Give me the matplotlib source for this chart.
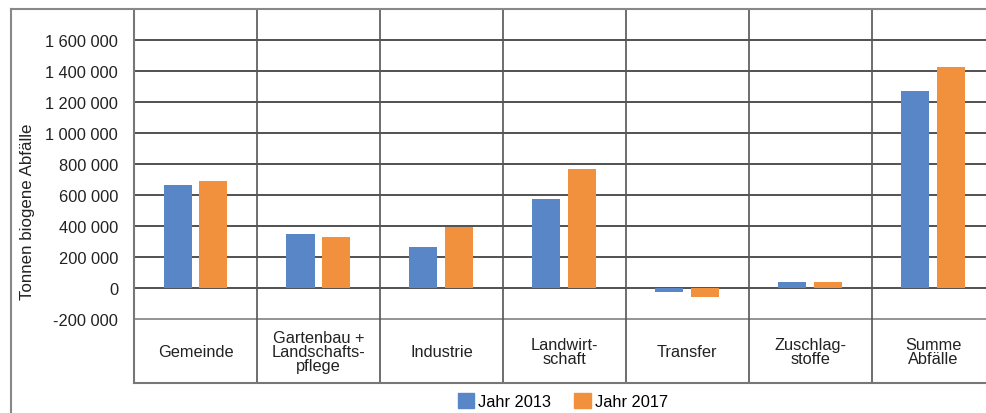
import numpy as np
import matplotlib
matplotlib.use("Agg")
import matplotlib.pyplot as plt
from matplotlib.lines import Line2D
from matplotlib.patches import Patch
from matplotlib.ticker import FuncFormatter

plt.rcParams['font.family'] = ['Liberation Sans', 'DejaVu Sans']

# Daten (Tonnen biogene Abfälle)
kategorien = ["Gemeinde", "Gartenbau +\nLandschafts-\npflege", "Industrie",
              "Landwirt-\nschaft", "Transfer", "Zuschlag-\nstoffe", "Summe\nAbfälle"]
jahr_2013 = [666000, 350000, 265000, 576000, -22000, 40000, 1273000]
jahr_2017 = [692000, 331000, 397000, 770000, -56000, 40000, 1428000]
y_ticks = [-200000, 0, 200000, 400000, 600000, 800000, 1000000, 1200000, 1400000, 1600000]

blau = '#5886c6'
orange = '#f2913d'
fs = 11.8

fig = plt.figure(figsize=(9.86, 4.14), dpi=100)
ax = fig.add_axes([0.1359, 0.0725, 0.873, 0.9033])

x = np.arange(len(kategorien))
breite = 0.228
ax.bar(x - 0.146, jahr_2013, breite, color=blau, zorder=3)
ax.bar(x + 0.146, jahr_2017, breite, color=orange, zorder=3)

ax.set_xlim(-0.5, len(kategorien) - 0.5)
ax.set_ylim(-611000, 1802000)

# Gitterlinien
for t in y_ticks:
    farbe = '#777777' if t == -200000 else '#222222'
    ax.axhline(t, color=farbe, lw=1.1, zorder=1)
for g in np.arange(-0.5, len(kategorien), 1):
    ax.axvline(g, color='#555555', lw=1.2, zorder=2)

ax.set_yticks(y_ticks)
ax.yaxis.set_major_formatter(FuncFormatter(lambda v, p: f"{int(v):,}".replace(",", " ")))
ax.tick_params(axis='y', length=0, pad=11.5, labelsize=fs, labelcolor='#222222')
ax.set_xticks([])

for s in ['top', 'right']:
    ax.spines[s].set_visible(False)
ax.spines['left'].set_color('#777777')
ax.spines['left'].set_linewidth(1.5)
ax.spines['bottom'].set_color('#777777')
ax.spines['bottom'].set_linewidth(1.5)

# Kategorienamen in der Tabellenzeile
for i, k in enumerate(kategorien):
    ax.text(i, -405000, k, ha='center', va='center', fontsize=fs,
            linespacing=0.92, color='#222222')

fig.text(28 / 986, 0.488, "Tonnen biogene Abfälle", rotation=90, ha='center',
         va='center', fontsize=12.2, color='#222222')

# Rahmen
fig.add_artist(Line2D([11 / 986, 11 / 986], [0, 1 - 10 / 414], color='#888888', lw=1.5))
fig.add_artist(Line2D([11 / 986, 1], [1 - 10 / 414, 1 - 10 / 414], color='#888888', lw=1.5))

handles = [Patch(color=blau, label='Jahr 2013'), Patch(color=orange, label='Jahr 2017')]
fig.legend(handles=handles, loc='center', bbox_to_anchor=(0.571, 0.029), ncol=2,
           frameon=False, fontsize=fs, handlelength=1.0, handleheight=1.0,
           handletextpad=0.25, columnspacing=1.4)

fig.savefig('out.png', dpi=100)
